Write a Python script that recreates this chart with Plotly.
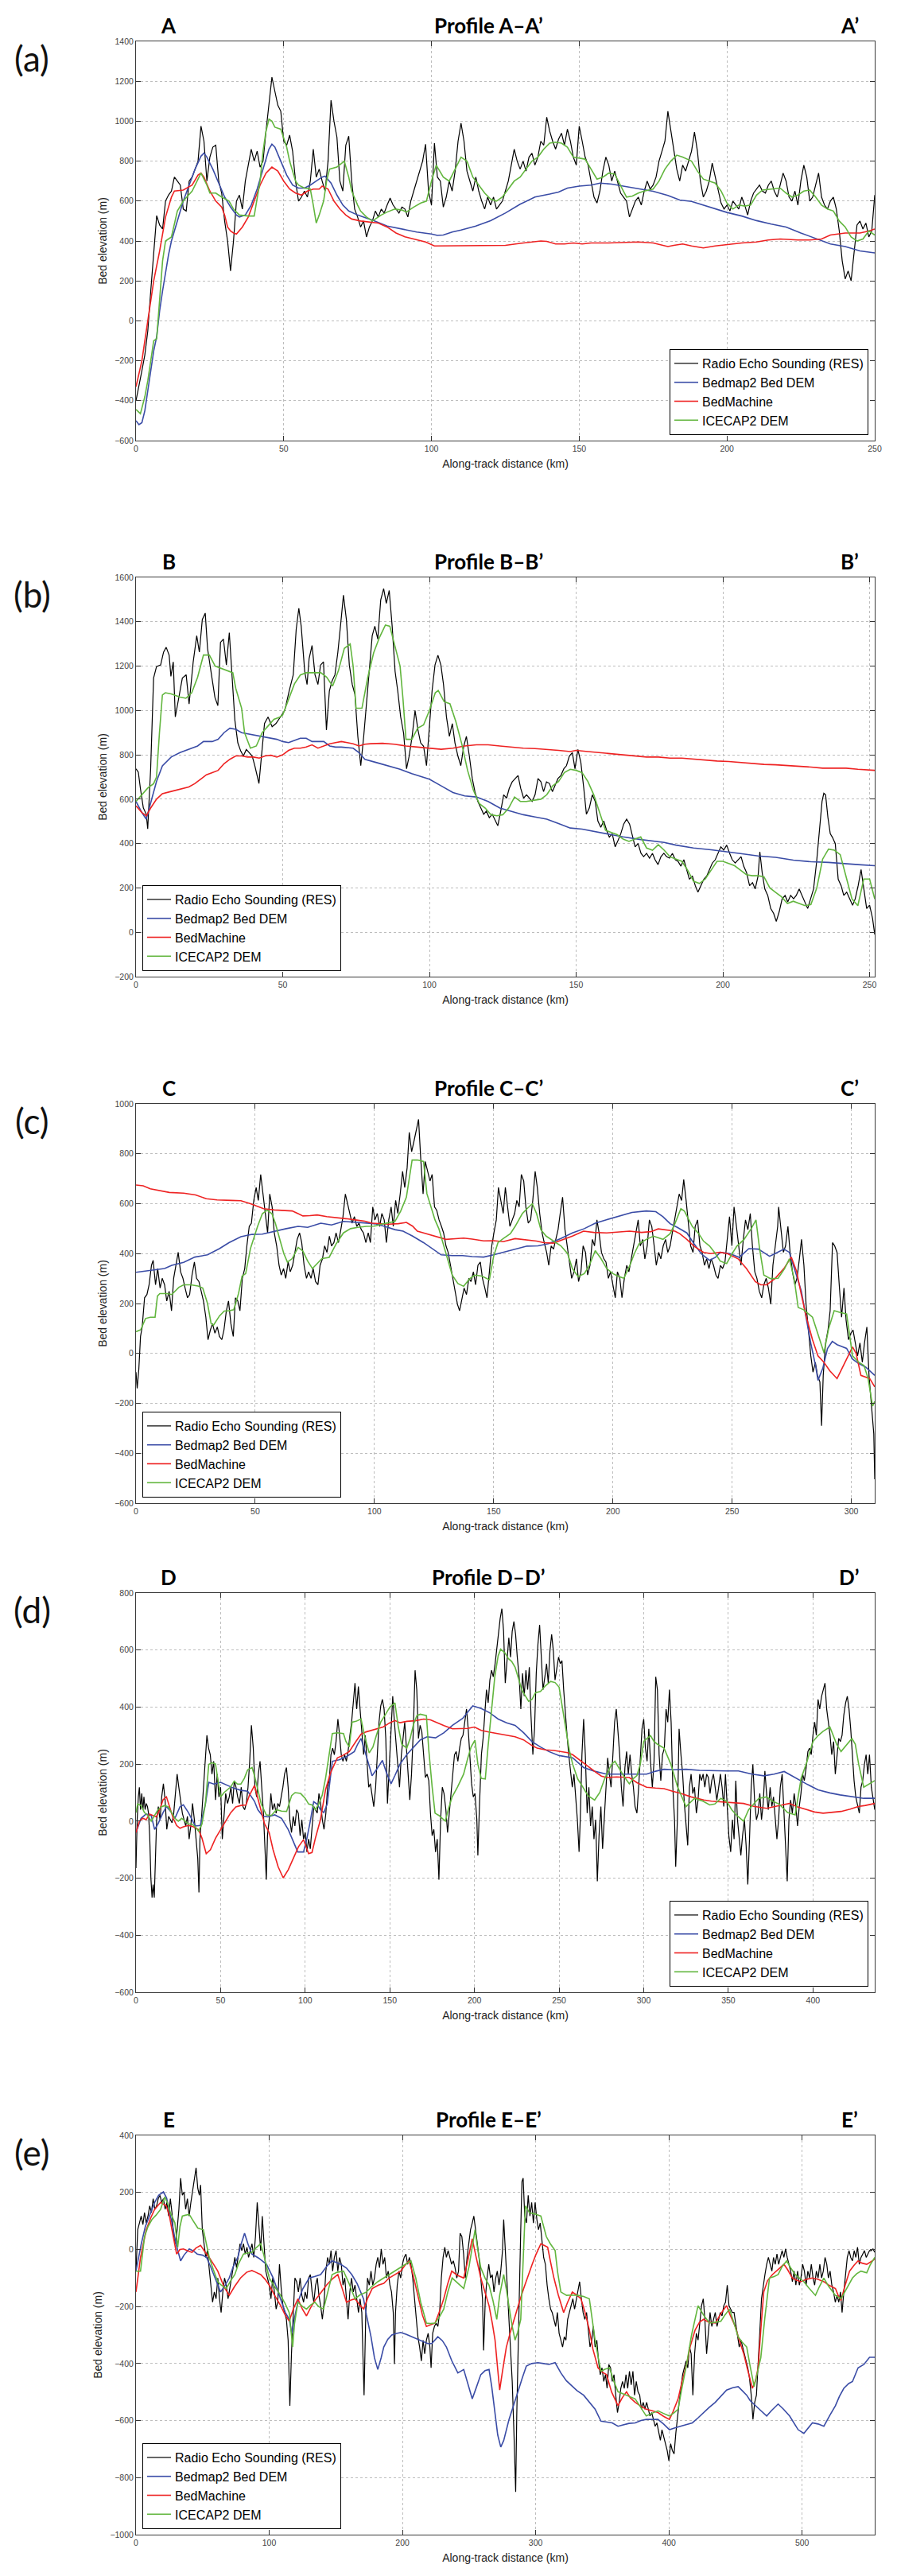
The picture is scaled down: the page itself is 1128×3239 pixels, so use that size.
import plotly.graph_objects as go

# page is rendered with the browser's 8px body margin, so the figure is sized to fit inside it
PAGE_W, PAGE_H = 1128, 3239
OFF = 8
W, H = PAGE_W - 2 * OFF, PAGE_H - 2 * OFF

# ---------------- Profile A-A' ----------------
a_res = [
    (0,-400),(1,-330),(2,-250),(3,-170),(4,-50),(5,150),(6,356),(7,527),(8,480),(9,460),
    (10,600),(11,630),(12,650),(13,720),(14,700),(15,680),(16,560),(17,550),(18,700),(19,720),
    (20,760),(21,800),(22,975),(23,900),(24,700),(25,820),(26,870),(27,880),(28,700),(29,640),
    (30,500),(31,400),(32,250),(33,400),(34,600),(35,630),(36,560),(37,700),(38,780),(39,860),
    (40,800),(41,850),(42,770),(43,800),(44,950),(45,1100),(46,1220),(47,1150),(48,1080),(49,1050),
    (50,900),(51,880),(52,930),(53,850),(54,700),(55,600),(56,620),(57,650),(58,620),(59,700),
    (60,860),(61,720),(62,760),(63,700),(64,650),(65,800),(66,1105),(67,1000),(68,920),(69,700),
    (70,650),(71,880),(72,925),(73,700),(74,560),(75,520),(76,470),(77,500),(78,420),(79,470),
    (80,500),(81,550),(82,520),(83,560),(84,540),(85,580),(86,615),(87,580),(88,560),(89,540),
    (90,570),(91,560),(92,520),(93,600),(94,650),(95,700),(96,750),(97,800),(98,885),(99,650),
    (100,580),(101,890),(102,720),(103,700),(104,570),(105,620),(106,700),(107,650),(108,750),(109,900),
    (110,990),(111,900),(112,750),(113,700),(114,650),(115,720),(116,650),(117,600),(118,560),(119,620),
    (120,580),(121,620),(122,560),(123,580),(124,600),(125,650),(126,700),(127,780),(128,860),(129,800),
    (130,760),(131,800),(132,750),(133,820),(134,840),(135,780),(136,820),(137,900),(138,880),(139,1020),
    (140,950),(141,900),(142,860),(143,910),(144,940),(145,880),(146,960),(147,900),(148,820),(149,780),
    (150,975),(151,900),(152,820),(153,780),(154,700),(155,620),(156,590),(157,650),(158,750),(159,820),
    (160,780),(161,700),(162,750),(163,700),(164,640),(165,620),(166,600),(167,520),(168,560),(169,600),
    (170,620),(171,580),(172,650),(173,700),(174,660),(175,680),(176,720),(177,800),(178,850),(179,900),
    (180,1050),(181,950),(182,850),(183,760),(184,700),(185,780),(186,750),(187,800),(188,850),(189,945),
    (190,850),(191,700),(192,620),(193,650),(194,700),(195,790),(196,720),(197,650),(198,590),(199,560),
    (200,580),(201,550),(202,600),(203,580),(204,560),(205,620),(206,580),(207,530),(208,600),(209,640),
    (210,660),(211,680),(212,650),(213,640),(214,680),(215,700),(216,650),(217,620),(218,680),(219,740),
    (220,700),(221,620),(222,600),(223,650),(224,580),(225,700),(226,780),(227,720),(228,600),(229,620),
    (230,680),(231,740),(232,620),(233,580),(234,560),(235,600),(236,620),(237,560),(238,450),(239,300),
    (240,210),(241,250),(242,200),(243,350),(244,480),(245,500),(246,460),(247,490),(248,420),(249,450),
    (250,630),
]
a_bedmap2 = [
    (0,-500),(1,-520),(2,-510),(3,-450),(4,-350),(5,-250),(6,-150),(7,-80),(8,50),(9,150),
    (10,250),(11,330),(12,400),(14,500),(16,600),(18,680),(20,760),(22,825),(23,840),(24,820),
    (26,760),(28,690),(30,620),(32,570),(34,530),(35,520),(37,530),(39,580),(41,660),(43,760),
    (45,860),(46,885),(47,870),(49,800),(51,730),(53,680),(55,665),(57,665),(59,680),(61,700),
    (63,720),(64,725),(66,690),(68,630),(70,580),(72,550),(75,530),(78,515),(80,505),(85,475),
    (90,460),(95,445),(100,435),(102,428),(104,430),(107,445),(110,455),(115,475),(120,502),(125,540),
    (130,584),(135,620),(140,635),(143,645),(146,665),(150,675),(154,680),(157,690),(161,685),(165,675),
    (170,660),(175,649),(180,628),(184,605),(188,598),(192,580),(196,560),(200,543),(205,525),(210,502),
    (215,485),(220,470),(225,440),(230,413),(235,385),(240,372),(245,350),(250,340),
]
a_bedmachine = [
    (0,-330),(2,-200),(4,0),(6,200),(8,350),(10,520),(12,620),(13,650),(16,655),(19,680),
    (21,730),(22,740),(23,720),(25,650),(27,600),(29,570),(30,530),(31,470),(32,450),(33,440),
    (34,435),(36,470),(38,520),(40,600),(42,680),(44,740),(46,770),(48,750),(50,700),(52,660),
    (54,640),(56,630),(58,650),(60,660),(62,660),(63,675),(65,660),(67,600),(69,560),(71,530),
    (73,510),(76,500),(80,495),(82,490),(85,470),(88,440),(91,421),(95,405),(98,395),(101,375),
    (104,375),(110,375),(120,375),(125,378),(130,388),(135,395),(137,400),(139,398),(142,385),(145,385),
    (148,390),(151,385),(154,390),(160,390),(165,392),(170,395),(175,390),(178,380),(180,372),(182,378),
    (185,385),(188,375),(192,365),(196,375),(200,383),(205,390),(210,395),(214,405),(218,410),(224,405),
    (228,405),(232,410),(235,430),(240,440),(245,440),(248,450),(250,460),
]
a_icecap2 = [
    (0,-444),(1.5,-465),(3,-380),(4,-300),(5,-200),(6,-100),(7,-90),(8,100),(9,300),(10,400),
    (12,420),(14,550),(16,600),(19,650),(22,740),(24,680),(25,640),(27,640),(29,620),(31.5,600),
    (33,560),(35,530),(38,525),(40,525),(42,700),(43,850),(44,950),(45,1010),(46,1000),(47,970),
    (49,960),(51,870),(52,800),(54,700),(55,680),(57,665),(59,660),(60,580),(61,490),(62,530),
    (63.5,600),(64.5,700),(65.5,760),(68,770),(70.5,800),(72,720),(73,650),(75,580),(76,550),(78,520),
    (80,500),(83,530),(85,545),(87.6,560),(90,555),(91.5,545),(94,570),(96.4,590),(98.3,600),(100,700),
    (101.6,780),(104,720),(106,700),(108,760),(110,820),(112,800),(114,720),(116,680),(118,640),(120,610),
    (122,600),(124,620),(126,660),(128,700),(130,720),(132,760),(134,800),(136,820),(138,860),(140,890),
    (142,895),(144,890),(146,870),(148,820),(150,815),(152,810),(154,760),(156,710),(158,720),(160,740),
    (162,735),(164,680),(166,620),(168,625),(170,640),(172,650),(175,660),(177,700),(179,760),(181,800),
    (183,830),(185,820),(188,800),(190,750),(192,710),(194,700),(196,690),(198,650),(200,590),(202,560),
    (204,580),(206,575),(208,580),(210,630),(212,655),(215,660),(218,665),(220,640),(222,620),(224,630),
    (226,650),(228,655),(230,620),(232,580),(234,560),(236,550),(238,500),(240,470),(242,420),(244,400),
    (246,410),(248,450),(250,430),
]

# ---------------- Profile B-B' ----------------
b_res = [
    (0,737),(0.8,722),(1.5,649),(2.5,561),(3.5,532),(4,466),(5,737),(5.5,956),(6,1146),(7,1198),
    (8.4,1205),(9.4,1263),(10.3,1285),(11.3,1249),(11.9,1154),(12.7,1219),(13.4,971),(14.2,1029),(15.8,1146),(17.1,1161),
    (18.1,1029),(19.5,1219),(20.7,1337),(21.6,1263),(22.6,1410),(23.6,1439),(24.4,1278),(25.9,1146),(26.9,1059),(27.9,1022),
    (28.8,1307),(29.8,1322),(30.8,1205),(31.8,1351),(32.7,1146),(33.7,956),(34.7,854),(35.7,817),(36.6,795),(37.6,824),
    (39.6,795),(40.5,751),(41.9,671),(43.1,854),(43.8,941),(45,971),(46.4,927),(47.7,941),(49.3,971),(50.7,1000),
    (52.2,1088),(53.6,1161),(54.6,1366),(55.5,1461),(56.3,1380),(57.5,1176),(58.3,1117),(59,1234),(60,1293),(61,1161),
    (62,1117),(62.9,1205),(63.9,1219),(64.9,912),(65.9,1088),(66.8,1132),(67.8,1161),(68.8,1263),(69.8,1395),(70.7,1520),
    (71.7,1410),(72.7,1205),(73.7,1117),(74.6,1073),(75.6,883),(76.6,751),(77.6,883),(78.5,1029),(79.5,1205),(80.5,1337),
    (81.4,1380),(82.4,1322),(83.4,1498),(84.4,1549),(85.3,1483),(86.3,1541),(87.3,1380),(88.3,1176),(89.2,1088),(90.2,971),
    (91.2,898),(92.2,737),(93.1,795),(94.1,883),(95.1,1000),(96.1,912),(97,854),(98,839),(99,751),(100,941),
    (100.9,1088),(101.9,1205),(102.9,1249),(103.9,1205),(104.8,1117),(105.8,971),(106.8,883),(107.8,941),(108.7,854),(109.7,795),
    (110.7,751),(111.7,839),(112.6,883),(113.6,795),(114.6,693),(115.5,634),(116.5,590),(117.5,561),(118.5,532),(119.4,546),
    (120.4,517),(121.4,532),(122.4,502),(123.3,480),(124.3,546),(125.3,620),(126.3,605),(127.2,649),(128.2,678),(129.2,693),
    (130.2,707),(131.1,649),(132.1,605),(133.1,620),(134.1,605),(135,590),(136,620),(137,693),(138,678),(138.9,634),
    (139.9,678),(140.9,671),(141.9,634),(142.8,663),(143.8,693),(144.8,707),(145.8,737),(146.7,751),(147.7,795),(148.7,810),
    (149.6,737),(150.6,824),(151.6,766),(152.6,649),(153.5,532),(154.5,561),(155.5,620),(156.5,590),(157.4,502),(158.4,473),
    (159.4,502),(160.4,459),(161.3,429),(162.3,444),(163.3,385),(164.3,415),(165.2,444),(166.2,488),(167.2,510),(168.2,488),
    (169.1,444),(170.1,385),(171.1,400),(172.1,356),(173,341),(174,356),(175,334),(176,356),(176.9,327),(177.9,305),
    (178.9,341),(179.9,356),(180.8,341),(181.8,334),(182.8,356),(183.8,327),(184.7,320),(185.7,298),(186.7,327),(187.6,283),
    (188.6,239),(189.6,254),(190.6,210),(191.5,181),(192.5,210),(193.5,239),(194.5,254),(195.4,283),(196.4,312),(197.4,327),
    (198.4,356),(199.3,385),(200.3,371),(201.3,393),(202.3,356),(203.2,327),(204.2,312),(205.2,327),(206.2,341),(207.1,298),
    (208.1,268),(209.1,210),(210.1,224),(211,195),(212,254),(212.6,363),(213.4,268),(214.3,195),(215.3,166),(216.3,107),
    (217.3,85),(218.2,49),(219.2,93),(220.2,151),(221.2,166),(222.1,137),(223.1,166),(224.1,151),(225,166),(226,195),
    (227,166),(228,137),(228.9,107),(229.9,151),(230.9,195),(231.9,312),(232.8,444),(233.8,590),(234.4,627),(235,620),
    (235.8,517),(236.6,444),(237.3,429),(238.3,400),(239.3,239),(240.3,210),(241.2,166),(242.2,181),(243.2,151),(244.2,122),
    (245.1,151),(246.1,210),(247.1,283),(248,195),(249,107),(250,122),(251,63),(251.75,-10),
]
b_bedmap2 = [
    (0,590),(2,540),(3.5,510),(5,580),(7,680),(9,750),(12,790),(15,810),(18,825),(21,840),
    (23,860),(26,860),(28,870),(30,900),(32,920),(34,915),(36,900),(40,890),(44,880),(48,870),
    (50,860),(52,855),(54,865),(56,875),(58,875),(60,860),(62,860),(64,860),(66,840),(68,835),
    (70,835),(74,830),(76,810),(78,780),(82,765),(86,750),(90,735),(94,715),(98,700),(100,690),
    (104,660),(108,630),(112,615),(116,610),(120,590),(124,560),(128,545),(132,530),(136,520),(140,510),
    (144,490),(148,470),(152,465),(156,455),(160,444),(166,430),(172,418),(176,412),(180,405),(184,393),
    (190,380),(196,372),(200,366),(206,355),(212,344),(218,338),(224,325),(230,318),(236,315),(240,312),
    (246,305),(251.75,300),
]
b_bedmachine = [
    (0,570),(2,540),(3.5,525),(5,560),(7,600),(9,625),(12,635),(15,645),(18,655),(20,670),
    (22,690),(24,710),(26,720),(28,730),(30,760),(32,780),(34,795),(36,795),(38,790),(40,790),
    (42,785),(44,795),(46,798),(48,790),(50,800),(52,820),(54,830),(56,830),(58,835),(60,845),
    (62,830),(64,840),(66,850),(68,855),(70,860),(72,855),(74,850),(76,840),(78,848),(80,850),
    (84,852),(88,848),(92,840),(96,835),(100,830),(104,825),(108,830),(112,840),(116,845),(120,845),
    (124,840),(128,835),(132,830),(136,828),(140,825),(144,820),(148,815),(150,820),(154,815),(158,810),
    (162,805),(166,800),(170,795),(174,790),(178,790),(182,785),(186,785),(190,780),(194,775),(198,772),
    (202,770),(206,765),(210,760),(214,757),(218,755),(222,752),(226,750),(230,745),(234,740),(238,740),
    (242,740),(246,735),(251.75,730),
]
b_icecap2 = [
    (0,590),(2,620),(4,650),(6,670),(7,700),(8,900),(9,1070),(10,1080),(12,1075),(15,1060),
    (17,1055),(19,1080),(21,1150),(23,1250),(25,1250),(27,1200),(29,1190),(31,1180),(33,1170),(34,1100),
    (36,1010),(37,900),(39,830),(41,840),(43,900),(45,930),(47,960),(49,970),(50,980),(52,1050),
    (54,1120),(56,1160),(58,1170),(60,1170),(63,1170),(65,1150),(67,1110),(69,1180),(71,1280),(73,1300),
    (74,1200),(75,1010),(77,1010),(79,1150),(81,1260),(83,1330),(85,1385),(86.5,1380),(88,1300),(90,1200),
    (91,1050),(92,870),(94,870),(96,920),(98,935),(100,1000),(102,1080),(103,1090),(105,1040),(107,1030),
    (109,950),(111,850),(113,730),(115,640),(117,580),(119,560),(121,530),(123,525),(125,530),(127,560),
    (129,610),(131,590),(133,590),(135,595),(138,600),(140,620),(142,660),(144,680),(146,720),(148,735),
    (150,730),(152,720),(154,680),(156,620),(158,540),(160,460),(162,450),(164,440),(166,420),(168,410),
    (170,420),(172,430),(174,380),(176,370),(178,395),(180,370),(182,340),(184,330),(186,320),(188,280),
    (190,230),(192,220),(194,240),(196,280),(198,320),(200,320),(202,310),(204,300),(206,280),(208,260),
    (210,255),(212,255),(214,250),(216,200),(218,180),(220,160),(222,130),(224,140),(226,130),(228,120),
    (230,125),(232,200),(234,330),(236,375),(238,370),(240,350),(242,250),(244,150),(246,120),(248,240),
    (250,240),(251.75,150),
]

# ---------------- Profile C-C' ----------------
c_res = [
    (0,-75),(0.5,-140),(1.2,-62),(1.9,68),(2.6,106),(3.6,223),(4.6,236),(5.5,275),(6.5,353),(7.2,373),
    (8.2,275),(9.1,340),(10.1,262),(11,301),(12,275),(12.9,210),(13.9,249),(14.9,171),(15.8,301),(16.8,353),
    (17.7,405),(18.7,327),(19.7,301),(20.6,262),(21.6,223),(22.5,236),(23.5,314),(24.5,366),(25.4,301),(26.4,288),
    (27.3,249),(28.3,210),(29.3,145),(30.2,55),(31.2,94),(32.1,119),(33.1,81),(34.1,106),(35,68),(36,55),
    (36.9,94),(37.9,171),(38.8,210),(39.8,119),(40.8,68),(41.7,223),(42.7,210),(43.6,171),(44.6,301),(45.6,340),
    (46.5,431),(47.5,509),(48.4,522),(49.4,613),(50.4,665),(51.3,613),(52.3,717),(53.2,639),(54.2,561),(55.2,483),
    (56.1,639),(57.1,587),(58,483),(59,431),(60,353),(60.9,314),(61.9,340),(62.8,301),(63.8,366),(64.7,327),
    (65.7,353),(66.7,405),(67.6,457),(68.6,483),(69.5,444),(70.5,353),(71.5,301),(72.4,327),(73.4,301),(74.3,340),
    (75.3,288),(76.3,275),(77.2,353),(78.2,379),(79.1,431),(80.1,405),(81.1,470),(82,431),(83,444),(83.9,483),
    (84.9,444),(85.9,496),(86.8,548),(87.8,639),(88.7,600),(89.7,561),(90.6,522),(91.6,548),(92.6,509),(93.5,522),
    (94.5,496),(95.4,483),(96.4,444),(97.4,483),(98.3,444),(99.3,587),(100.2,535),(101.2,561),(102.2,509),(103.1,561),
    (104.1,535),(105,444),(106,535),(107,587),(107.9,509),(108.9,613),(109.8,561),(110.8,639),(111.8,730),(112.7,665),
    (113.7,743),(114.6,886),(115.6,808),(116.5,847),(117.5,899),(118.5,938),(119.4,782),(120.4,639),(121.3,769),(122.3,730),
    (123.3,691),(124.2,717),(125.2,587),(126.1,574),(127.1,535),(128.1,509),(129,483),(130,431),(130.9,405),(131.9,353),
    (132.9,301),(133.8,249),(134.8,197),(135.7,171),(136.7,223),(137.6,262),(138.6,236),(139.6,301),(140.5,288),(141.5,327),
    (142.4,275),(143.4,353),(144.4,366),(145.3,301),(146.3,262),(147.2,223),(148.2,327),(149.2,431),(150.1,483),(151.1,535),
    (152,665),(153,613),(154,561),(154.9,665),(155.9,587),(156.8,509),(157.8,535),(158.8,561),(159.7,613),(160.7,587),
    (161.6,717),(162.6,691),(163.5,587),(164.5,522),(165.5,535),(166.4,613),(167.4,730),(168.3,665),(169.3,561),(170.3,483),
    (171.2,444),(172.2,405),(173.1,353),(174.1,431),(175.1,418),(176,457),(177,496),(177.9,561),(178.9,626),(179.9,496),
    (180.8,431),(181.8,353),(182.7,301),(183.7,327),(184.7,379),(185.6,288),(186.6,327),(187.5,431),(188.5,405),(189.4,314),
    (190.4,353),(191.4,457),(192.3,431),(193.3,535),(194.2,483),(195.2,405),(196.2,379),(197.1,366),(198.1,301),(199,327),
    (200,275),(201,223),(201.9,327),(202.9,301),(203.8,223),(204.8,301),(205.8,353),(206.7,327),(207.7,379),(208.6,431),
    (209.6,483),(210.6,535),(211.5,431),(212.5,457),(213.4,379),(214.4,431),(215.3,535),(216.3,509),(217.3,431),(218.2,353),
    (219.2,405),(220.1,379),(221.1,431),(222.1,457),(223,405),(224,431),(224.9,483),(225.9,535),(226.9,587),(227.8,639),
    (228.8,613),(229.7,697),(230.7,613),(231.7,509),(232.6,431),(233.6,405),(234.5,509),(235.5,535),(236.5,431),(237.4,405),
    (238.4,353),(239.3,379),(240.3,340),(241.2,379),(242.2,353),(243.2,314),(244.1,301),(245.1,353),(246,340),(247,366),
    (248,457),(248.9,548),(249.9,431),(250.8,587),(251.8,509),(252.8,431),(253.7,353),(254.7,457),(255.6,535),(256.6,496),
    (257.6,561),(258.5,431),(259.5,327),(260.4,301),(261.4,249),(262.4,223),(263.3,275),(264.3,301),(265.2,262),(266.2,197),
    (267.1,353),(268.1,431),(269.1,509),(269.5,587),(270.5,496),(271.5,405),(272.4,431),(273.4,509),(274.3,405),(275.3,327),
    (276.3,275),(277.2,301),(278.2,379),(279.1,457),(280.1,353),(281,197),(282,94),(283,-10),(283.9,-75),(284.9,-36),
    (285.8,-88),(286.8,-114),(287.5,-290),(288.2,-88),(289.2,42),(290.2,94),(291.1,171),(292.1,444),(293,431),(294,405),
    (295,262),(295.9,145),(296.9,262),(297.8,132),(298.8,55),(299.8,81),(300.7,94),(301.7,42),(302.6,-10),(303.6,42),
    (304.6,-36),(305.5,42),(306.5,106),(307.4,-88),(308.4,-218),(309.4,-322),(309.8,-504),
]
c_bedmap2 = [
    (0,325),(4,330),(8,334),(12,340),(15,353),(20,365),(24.7,386),(30,395),(35,420),(39,444),
    (44,468),(48.7,477),(53,478),(58,490),(63,500),(68,509),(72,505),(77.5,522),(82,515),(87,529),
    (92,525),(96.6,522),(100,520),(104,510),(108.6,496),(112,490),(116,470),(120.6,444),(125,415),(128,395),
    (132.6,392),(137,392),(141,388),(145.8,386),(150,395),(154.2,405),(160,420),(164,430),(168.6,431),(173,440),
    (178,460),(183,483),(188,500),(192.6,522),(197,535),(202,548),(208,565),(214,571),(218,568),(221,548),
    (224,520),(227,505),(231,483),(234,440),(237,400),(240.5,373),(243,385),(245,405),(249,400),(253,385),
    (257,420),(261,418),(265.7,389),(269,405),(271.7,418),(274,405),(276.5,327),(279,250),(281,145),(283,40),
    (285,-50),(286,-108),(288,-60),(290,20),(292,48),(294,35),(295.7,29),(298,20),(300.5,-23),(303,-40),
    (306,-55),(309.8,-88),
]
c_bedmachine = [
    (0,675),(3,672),(6,660),(10,652),(14,645),(20,642),(25,635),(29.5,620),(34,615),(40,613),
    (44,612),(48,600),(53.5,580),(58,575),(62,572),(65.5,571),(68,560),(70,551),(73,552),(76,555),
    (80,548),(84,545),(88,540),(92,535),(96,530),(99,522),(102,520),(106,518),(110,520),(113.4,525),
    (116,510),(118,490),(120.6,483),(125,470),(130,457),(134,460),(137.4,462),(141,458),(145.8,451),(150,452),
    (154,448),(159,460),(164,455),(168,450),(171,444),(175,442),(179.4,457),(183,470),(187.7,490),(192,485),
    (197.4,483),(202,486),(207,490),(212,485),(216,488),(219,499),(223,495),(226,490),(228,480),(231,457),
    (234,430),(238,405),(241,400),(245,405),(248,400),(252.5,379),(256,340),(259.7,288),(262,275),(264.5,275),
    (268,300),(271.7,340),(274.8,386),(277,330),(279,236),(281,150),(283.7,55),(286,-10),(288.5,-36),(291,-70),
    (294,-101),(296,-60),(298,-23),(300.5,26),(302,0),(304,-88),(307.7,-101),(309.8,-134),
]
c_icecap2 = [
    (0,87),(2,95),(4,140),(6,145),(8,145),(9,230),(10,240),(13,240),(15,236),(18,265),
    (20,275),(23,275),(26,270),(28,262),(30,200),(31.5,120),(32.5,113),(35,150),(37,170),(39,171),
    (41,175),(43,240),(44.5,310),(46,320),(48,420),(50,480),(51,509),(53,560),(55,574),(57,560),
    (58.5,520),(60.7,444),(62,400),(63.5,366),(65.5,380),(68,425),(70,410),(72,370),(74,340),(76,360),
    (78,380),(81,385),(84,440),(87,483),(90,500),(93,505),(96.6,509),(100,510),(104,520),(108.6,529),
    (111,570),(113.4,626),(115.8,775),(118,775),(120.6,769),(122,640),(125.4,535),(127,500),(130,400),(132.6,314),
    (135,280),(137.4,269),(140,300),(142.2,314),(145,310),(148.2,295),(150,390),(151.8,444),(154,460),(157,480),
    (159,509),(162,560),(164,580),(166.2,600),(168,560),(169.8,496),(172,470),(175,450),(178.2,431),(181,400),
    (183,340),(185.4,308),(188,320),(190,350),(192.6,412),(195,380),(197.4,340),(200,320),(202,310),(204.6,301),
    (207,350),(209,400),(211,440),(214,457),(217,470),(221,457),(224,480),(226,520),(228.5,580),(230,570),
    (233.3,509),(236,480),(238,450),(240.5,431),(243,400),(245,370),(247.7,360),(250,400),(252,430),(255,457),
    (258,500),(260,535),(261.5,420),(263.3,314),(266,300),(269.3,301),(272,340),(274,379),(276,300),(277.7,184),
    (280,175),(283.7,145),(286,80),(288.5,3),(290.5,100),(292.8,171),(295,165),(298,158),(300.5,-10),(303,-35),
    (305.3,-49),(307,-100),(308.9,-211),(309.8,-192),
]

# ---------------- Profile D-D' ----------------
d_res = [
    (0,-165),(0.7,5),(1.4,85),(2,119),(2.7,40),(3.4,97),(4.1,40),(4.7,85),(5.4,40),(6.1,62),
    (6.8,51),(7.4,28),(8.1,-51),(8.8,-199),(9.5,-268),(10.1,-222),(10.8,-268),(11.5,-108),(12.2,5),(13.2,51),
    (14.2,5),(15.2,85),(16.2,131),(17.2,74),(18.2,-29),(19.3,17),(20.3,5),(21.3,-6),(22.3,28),(23.3,97),
    (24.3,165),(25.3,119),(26.4,62),(27.4,28),(28.4,5),(29.4,-17),(30.4,17),(31.4,-63),(32.4,-17),(33.4,62),
    (34.5,5),(35.5,-63),(36.5,-131),(37.2,-250),(37.8,-63),(38.9,28),(39.9,119),(40.9,233),(41.9,301),(42.9,256),
    (43.9,233),(44.9,165),(45.9,210),(47,74),(48,165),(49,85),(50,119),(51,-63),(52,28),(53,97),
    (54.1,62),(55.1,85),(56.1,119),(57.1,62),(58.1,142),(59.1,119),(60.1,85),(61.1,62),(62.2,119),(63.2,51),
    (64.2,40),(65.2,62),(66.2,119),(67.2,210),(68.2,336),(69.3,256),(70.3,119),(71.3,85),(72.3,165),(73.3,210),
    (74.3,119),(75.3,28),(76.4,-120),(77,-205),(77.7,-51),(78.7,5),(79.7,97),(80.7,40),(81.8,62),(82.8,28),
    (83.8,62),(84.8,51),(85.8,85),(86.8,119),(87.8,165),(88.9,188),(89.9,119),(90.9,5),(91.9,-40),(92.9,17),
    (93.9,-17),(94.9,40),(95.9,28),(97,-51),(98,5),(99,-63),(100,-40),(101,-108),(102,-63),(103,-97),
    (104.1,-17),(105.1,51),(106.1,40),(107.1,28),(108.1,97),(109.1,62),(110.1,5),(111.1,-29),(112.2,28),(113.2,119),
    (114.2,142),(115.2,233),(116.2,256),(117.2,233),(118.2,279),(119.3,358),(120.3,301),(121.3,233),(122.3,210),(123.3,233),
    (124.3,210),(125.3,244),(126.4,301),(127.4,347),(128.4,415),(129.4,484),(130.4,393),(131.4,472),(132.4,393),(133.4,313),
    (134.5,233),(135.5,301),(136.5,210),(137.5,119),(138.5,131),(139.5,85),(140.5,51),(141.6,119),(142.6,233),(143.6,347),
    (144.6,404),(145.6,427),(146.6,393),(147.6,290),(148.6,62),(149.7,210),(150.7,301),(151.7,438),(152.7,347),(153.7,279),
    (154.7,210),(155.7,119),(156.8,233),(157.8,301),(158.8,347),(159.8,256),(160.8,176),(161.8,74),(162.8,165),(163.9,324),
    (164.9,529),(165.9,461),(166.9,290),(167.9,336),(168.9,313),(169.9,233),(171,153),(172,165),(173,142),(174,28),
    (175,-51),(176,-29),(177,-108),(178,-63),(179,-205),(180,5),(181,119),(182,97),(183.1,40),(184.1,-40),
    (185.1,28),(186.1,74),(187.2,165),(188.2,233),(189.2,244),(190.2,210),(191.2,256),(192.2,290),(193.2,301),(194.3,347),
    (195.3,393),(196.3,324),(197.3,233),(198.3,131),(199.3,85),(200.3,97),(201.4,5),(202,-120),(203,62),(204.1,233),
    (205.1,290),(206.1,370),(207.1,461),(208.1,415),(209.1,495),(210.1,529),(211.1,506),(212.2,552),(213.2,609),(214.2,666),
    (215.2,711),(216.2,745),(217.2,666),(218.2,484),(219.3,575),(220.3,643),(221.3,575),(222.3,666),(223.3,700),(224.3,655),
    (225.3,575),(226.4,506),(227.4,393),(228.4,518),(229.4,438),(230.4,529),(231.4,461),(232.4,540),(233.4,370),(234.5,233),
    (235.5,324),(236.5,518),(237.5,620),(238.5,688),(239.5,575),(240.5,461),(241.6,506),(242.6,552),(243.6,484),(244.6,597),
    (245.6,655),(246.6,597),(247.6,495),(248.6,540),(249.7,575),(250.7,552),(251.7,563),(252.7,461),(253.7,393),(254.7,301),
    (255.7,233),(256.8,165),(257.8,119),(258.8,165),(259.8,85),(260.8,5),(261.8,-108),(262.5,5),(263.5,233),(264.5,358),
    (265.5,233),(266.6,28),(267.6,119),(268.6,-17),(269.6,51),(270.6,-63),(271.6,5),(272.6,-211),(273.6,-51),(274.7,51),
    (275.7,-97),(276.7,5),(277.7,119),(278.7,222),(279.7,165),(280.7,119),(281.8,233),(282.8,347),(283.8,393),(284.8,324),
    (285.8,233),(286.8,119),(287.8,51),(288.9,188),(289.9,244),(290.9,165),(291.9,233),(292.9,165),(293.9,119),(294.9,51),
    (296,28),(297,119),(298,233),(299,324),(300,358),(301,256),(302,210),(303,324),(304,210),(305.1,119),
    (306.1,210),(307.1,506),(308.1,461),(309.1,233),(310.1,142),(311.1,233),(312.2,256),(313.2,393),(314.2,347),(315.2,461),
    (316.2,347),(317.2,119),(318.2,5),(318.9,-160),(319.9,5),(320.9,324),(322,233),(323,165),(324,62),(325,-17),
    (326,-85),(327,119),(328,165),(329,97),(330,119),(331.1,28),(332.1,74),(333.1,165),(334.1,142),(335.1,165),
    (336.1,119),(337.2,165),(338.2,153),(339.2,97),(340.2,142),(341.2,165),(342.2,119),(343.2,74),(344.3,119),(345.3,165),
    (346.3,119),(347.3,51),(348.3,165),(349.3,51),(350.3,-51),(351.4,-108),(352.4,5),(353.4,-63),(354.4,142),(355.4,5),
    (356.4,-51),(357.4,-120),(358.4,-51),(359.5,5),(360.5,-85),(361.5,-222),(362.5,-63),(363.5,119),(364.5,199),(365.5,74),
    (366.6,5),(367.6,28),(368.6,97),(369.6,5),(370.6,62),(371.6,176),(372.6,97),(373.6,40),(374.7,119),(375.7,51),
    (376.7,85),(377.7,5),(378.7,-63),(379.7,5),(380.7,119),(381.8,165),(382.8,28),(383.8,-63),(384.8,-211),(385.8,5),
    (386.8,74),(387.8,28),(388.9,97),(389.9,51),(390.9,-17),(391.9,51),(392.9,97),(393.9,165),(394.9,142),(396,188),
    (397,244),(398,256),(399,233),(400,301),(401,347),(402,301),(403,427),(404,393),(405.1,438),(406.1,461),
    (407.1,484),(408.1,393),(409.1,347),(410.1,301),(411.1,233),(412.2,279),(413.2,165),(414.2,233),(415.2,290),(416.2,279),
    (417.2,301),(418.2,370),(419.3,415),(420.3,438),(421.3,393),(422.3,324),(423.3,233),(424.3,142),(425.3,85),(426.4,51),
    (427.4,28),(428.4,119),(429.4,142),(430.4,199),(431.4,233),(432.4,165),(433.4,233),(434.5,119),(435.5,74),(436.5,40),
]
d_bedmap2 = [
    (0,-40),(3,10),(6,25),(9,20),(11,-29),(13,-10),(16,30),(18,51),(21,30),(23,10),
    (26,50),(28,57),(31,30),(35,-17),(38,-15),(41,60),(43,136),(46,130),(50,136),(54,125),
    (58,115),(62,108),(66,105),(70,70),(72,40),(75,17),(78,15),(82,22),(86,10),(90,-30),
    (93,-70),(95.6,-108),(99,-108),(101,-60),(103,0),(105,68),(107,60),(109,40),(111,30),(113,60),
    (116,210),(120,215),(124,225),(129,244),(131,270),(133,290),(136,230),(139.5,159),(142,180),(145.6,213),
    (148,170),(150.7,131),(153,160),(156,200),(160,233),(164,260),(168,285),(172,296),(177,292),(182,310),
    (187,336),(193,360),(199,404),(204,395),(209,380),(214,358),(219,345),(224,336),(229,310),(234,279),
    (239,260),(244,244),(250,230),(258,222),(264.5,188),(271,175),(278,165),(285,165),(291.5,165),(296,165),
    (301.7,165),(307,175),(312,182),(318,180),(325,182),(333,178),(342,176),(349,176),(356,176),(364,165),
    (371,159),(377,165),(383,174),(390,150),(396,131),(403,110),(410,99),(416,92),(423,85),(430,80),
    (436.5,80),
]
d_bedmachine = [
    (0,-40),(2,0),(4,10),(6,5),(8,25),(10,20),(12,15),(14,40),(16,75),(18,85),
    (20,50),(22,10),(24,-15),(26,-25),(28,-20),(31,-15),(34,-20),(37,-30),(39,-60),(41.5,-114),
    (44,-100),(47,-60),(50,-30),(53,0),(56,30),(59,50),(62,55),(65,57),(67,90),(70,125),
    (72,80),(74,30),(76,-10),(78.7,-40),(81,-100),(84,-160),(87,-199),(90,-170),(93,-130),(96,-90),
    (99,-65),(101,-100),(102,-114),(104,-110),(106,-60),(109,5),(112,110),(115,170),(119,222),(122,230),
    (126,244),(130,280),(133,305),(136,313),(140,320),(146,330),(150,345),(153,353),(156,345),(160,350),
    (165,352),(170,358),(174,355),(177,347),(182,335),(187,324),(192,325),(196,325),(200,330),(204,318),
    (209,312),(214,307),(219,300),(224,296),(229,285),(234,265),(237,256),(242,250),(247,248),(251,244),
    (255,240),(258,233),(262,215),(265,200),(268,188),(272,170),(275,158),(278,153),(284,155),(291.5,153),
    (296,135),(301.7,119),(307,116),(312,114),(317,105),(322,97),(328,85),(335.5,74),(340,70),(345.6,68),
    (352,65),(359,62),(365,52),(372.6,45),(378,52),(386,62),(391,50),(396,40),(401,32),(406,28),
    (411,30),(416.6,34),(422,42),(426.7,51),(431,55),(436.5,62),
]
d_icecap2 = [
    (0,30),(1,60),(3,55),(5,30),(7,20),(9,0),(11,20),(13,40),(15,50),(17,55),
    (19,50),(21,30),(23,10),(25,0),(27,10),(29,0),(31,-10),(33,-10),(35,-20),(37,-35),
    (39,-10),(41,60),(43,199),(45,205),(47,200),(48,160),(50,85),(52,100),(54,110),(56,120),
    (58,140),(60,130),(62,130),(64,150),(66,180),(68.6,188),(70,160),(72,110),(74,60),(77,22),
    (80,20),(83,40),(86,35),(89,34),(92,90),(94,100),(97.3,97),(100,80),(102,60),(104,57),
    (106,40),(108,60),(110,90),(112,150),(114,230),(116,307),(119,310),(122.6,307),(124,280),(126,260),
    (127.7,347),(130,350),(133,358),(135,300),(137.8,239),(140,260),(142,300),(144.6,347),(147,370),(150,400),
    (153,415),(155,330),(157,270),(160,256),(162,290),(164,340),(166,370),(168,375),(171.6,370),(173,250),
    (175,120),(176.7,28),(179,20),(181,10),(182.8,0),(184.5,40),(186.8,85),(190,120),(193.6,165),(196,220),
    (198,260),(200.3,284),(202,200),(204,150),(206.4,148),(208,260),(210,380),(212,506),(214,580),(215.5,603),
    (218,590),(220,570),(222,560),(224,540),(226,500),(228,460),(230,440),(232,420),(234,427),(236,450),
    (239,455),(242,475),(245,490),(247.6,486),(250,470),(252,400),(254.4,313),(256,250),(258,200),(261,148),
    (264,120),(267,90),(271,74),(274,100),(277,150),(281,199),(283,210),(286,180),(288,160),(291.5,131),
    (294,150),(296,160),(298,200),(300,280),(302,290),(304,300),(306,280),(308,270),(312,256),(316,200),
    (320,120),(325,51),(330,80),(335,70),(339,57),(342,60),(345.6,80),(349,70),(352,40),(355,20),
    (359,0),(362,40),(365,60),(368,80),(372.6,85),(376,70),(380,60),(385,30),(389.5,22),(393,150),
    (396,200),(400,279),(403,300),(406,315),(410,330),(412,300),(414,270),(416.6,244),(420,270),(423,290),
    (425,270),(427,200),(430,119),(433,130),(436.5,142),
]

# ---------------- Profile E-E' ----------------
e_res = [
    (0,-76),(1.3,69),(2.6,93),(3.9,117),(5.2,87),(6.4,129),(7.7,93),(9,117),(10.3,153),(11.6,129),
    (12.9,178),(14.2,141),(15.5,153),(16.7,178),(18,190),(19.3,165),(20.6,178),(21.9,141),(23.2,165),(24.5,117),
    (25.8,178),(27,129),(28.3,45),(29.6,20),(30.9,69),(32.2,141),(33.5,250),(34.8,190),(36.1,202),(37.3,141),
    (38.6,178),(39.9,117),(41.2,165),(42.5,202),(43.8,238),(45.1,286),(46.4,214),(47.6,190),(48.5,226),(49.8,69),
    (51.1,20),(52.4,-28),(53.6,-4),(54.9,-76),(56.2,-125),(57.5,-185),(58.8,-149),(60.1,-173),(61.4,-100),(62.7,-173),
    (63.9,-221),(65.2,-149),(66.5,-100),(67.8,-125),(69.1,-173),(70.4,-137),(71.7,-100),(73,-52),(74.2,-28),(75.5,-64),
    (76.8,-16),(78.1,20),(79.4,-4),(80.7,20),(82,-16),(83.3,8),(84.5,-28),(85.8,-4),(87.1,20),(88.4,-28),
    (89.7,45),(91,165),(92.3,69),(93.6,-4),(94.8,117),(96.1,20),(97.4,-76),(98.7,-100),(100,-125),(101.3,-173),
    (102.6,-100),(103.9,-149),(105.2,-209),(106.4,-185),(107.7,-52),(109,-137),(110.3,-197),(111.6,-221),(112.9,-245),(114.2,-318),
    (115.5,-548),(116.7,-366),(118,-221),(119.3,-100),(120.6,-113),(121.9,-149),(123.2,-100),(124.5,-161),(125.8,-185),(127,-149),
    (128.3,-173),(129.6,-100),(130.9,-88),(132.2,-149),(133.5,-185),(134.8,-125),(136.1,-100),(137.3,-161),(138.6,-197),(139.9,-245),
    (141.2,-185),(142.5,-76),(143.8,-28),(145.1,-52),(146.4,-4),(147.6,-76),(148.9,-28),(150.2,-4),(151.5,-76),(152.8,-28),
    (154.1,-52),(155.4,-125),(156.7,-100),(157.9,-173),(159.2,-245),(160.5,-149),(161.8,-100),(163.1,-149),(164.4,-125),(165.7,-173),
    (167,-221),(168.2,-173),(169.5,-221),(170.4,-378),(171.2,-511),(172.5,-221),(173.8,-100),(175.1,-125),(176.4,-76),(177.7,-125),
    (179,-100),(180.3,-52),(181.5,-28),(182.8,-64),(184.1,2),(185.4,-52),(186.7,-28),(188,-100),(189.3,-76),(190.6,-125),
    (191.8,-149),(193.1,-221),(194,-402),(194.8,-221),(196.1,-125),(197.4,-76),(198.7,-100),(200,-52),(201.3,-28),(202.6,-16),
    (203.9,-52),(205.2,-28),(206.4,-52),(207.7,-100),(209,-173),(210.3,-221),(211.6,-306),(212.9,-342),(214.2,-391),(215.5,-318),
    (216.7,-366),(218,-318),(219.3,-294),(220.6,-342),(221.5,-415),(222.7,-294),(224,-270),(225.3,-258),(226.6,-270),(227.9,-221),
    (229.2,-100),(230.5,-28),(231.8,8),(233,-28),(234.3,-4),(235.6,-28),(236.9,-52),(238.2,-40),(239.5,-64),(240.8,-100),
    (242.1,-76),(243.3,57),(244.6,45),(245.9,-16),(247.2,-100),(248.5,-28),(249.8,20),(251.1,69),(252.4,93),(253.6,117),
    (254.9,69),(256.2,20),(257.5,-28),(258.8,-100),(260.1,-173),(260.9,-354),(262.2,-173),(263.5,-100),(264.8,-52),(266.1,-100),
    (267.4,-88),(268.7,-149),(270,-100),(271.2,-76),(272.5,-125),(273.8,-76),(275.1,-4),(276,105),(277.3,-4),(278.5,-100),
    (279.8,-221),(281.1,-342),(282.4,-463),(283.7,-644),(285,-850),(285.8,-584),(286.7,-342),(288,-100),(288.8,69),(289.7,238),
    (290.6,250),(291.8,117),(293.1,93),(294.4,190),(295.7,117),(297,165),(298.3,93),(299.6,165),(300.9,105),(302.1,69),
    (303.4,93),(304.7,20),(306,-28),(307.3,-52),(308.6,-125),(309.9,-173),(311.2,-209),(312.4,-221),(313.7,-245),(315,-270),
    (316.3,-221),(317.6,-294),(318.9,-318),(320.2,-342),(321.5,-306),(322.7,-318),(324,-245),(325.3,-221),(326.6,-197),(327.9,-173),
    (329.2,-209),(330.5,-173),(331.8,-149),(333,-113),(334.3,-173),(335.6,-221),(336.9,-245),(338.2,-221),(339.5,-282),(340.8,-342),
    (342.1,-318),(343.3,-270),(344.6,-342),(345.9,-318),(347.2,-391),(348.5,-439),(349.8,-415),(351.1,-463),(352.4,-439),(353.6,-487),
    (354.9,-403),(356.2,-415),(357.5,-463),(358.8,-439),(360.1,-511),(361.4,-572),(362.7,-536),(363.9,-487),(365.2,-463),(366.5,-487),
    (367.8,-439),(369.1,-487),(370.4,-427),(371.7,-475),(373,-427),(374.2,-511),(375.5,-463),(376.8,-499),(378.1,-511),(379.4,-560),
    (380.7,-536),(382,-560),(383.3,-536),(384.5,-560),(385.8,-584),(387.1,-572),(388.4,-596),(389.7,-620),(391,-608),(392.3,-644),
    (393.6,-669),(394.8,-632),(396.1,-657),(397.4,-681),(398.7,-705),(400,-741),(401.3,-681),(402.6,-705),(403.9,-717),(405.2,-644),
    (406.4,-584),(407.7,-536),(409,-487),(410.3,-439),(411.6,-415),(412.9,-391),(414.2,-415),(415.5,-342),(416.7,-366),(418,-511),
    (419.3,-366),(420.6,-294),(421.9,-318),(423.2,-245),(424.5,-197),(425.8,-173),(427,-245),(428.3,-366),(429.6,-294),(430.9,-221),
    (432.2,-270),(433.5,-245),(434.8,-221),(436.1,-270),(437.3,-245),(438.6,-221),(439.9,-233),(441.2,-197),(442.5,-185),(443.8,-125),
    (445.1,-197),(446.4,-209),(447.6,-221),(448.9,-221),(450.2,-258),(451.5,-306),(452.8,-342),(454.1,-318),(455.4,-342),(456.7,-366),
    (457.9,-391),(459.2,-415),(460.5,-451),(461.8,-511),(463.1,-596),(464.4,-536),(465.7,-511),(467,-415),(468.2,-294),(469.5,-173),
    (470.8,-125),(472.1,-88),(473.4,-52),(474.7,-28),(476,-52),(477.3,-76),(478.5,-28),(479.8,-52),(481.1,-16),(482.4,-52),
    (483.7,-28),(485,-4),(486.3,-28),(487.6,2),(488.8,-28),(490.1,-52),(491.4,-76),(492.7,-113),(494,-76),(495.3,-125),
    (496.6,-76),(497.9,-125),(499.1,-100),(500.4,-52),(501.7,-76),(503,-125),(504.3,-76),(505.6,-100),(506.9,-52),(508.2,-100),
    (509.4,-125),(510.7,-76),(512,-100),(513.3,-52),(514.6,-100),(515.9,-76),(517.2,-28),(518.5,-52),(519.7,-100),(521,-76),
    (522.3,-125),(523.6,-149),(524.9,-185),(526.2,-161),(527.5,-185),(528.8,-149),(530,-221),(531.3,-149),(532.6,-76),(533.9,-28),
    (535.2,-4),(536.5,-28),(537.8,-40),(539.1,-4),(540.3,-28),(541.6,8),(542.9,-52),(544.2,-28),(545.5,-16),(546.8,-4),
    (548.1,-28),(549.4,-16),(550.6,-4),(551.9,-4),(553.2,2),(554.5,-10),
]
e_bedmap2 = [
    (0,-76),(4,20),(7,80),(10,117),(14,165),(17,190),(20.6,202),(23,180),(25,140),(27,93),
    (30,20),(33.5,-40),(36,-20),(40,2),(43,-5),(46,-16),(50,-20),(53,-28),(56,-60),(60,-110),
    (63.5,-149),(67,-125),(70,-100),(73,-60),(76.4,-28),(79,20),(81.5,57),(84,20),(87,-16),(92,-30),
    (98,-52),(103,-100),(108.6,-173),(112,-220),(115,-245),(117,-294),(119,-240),(121.5,-185),(125,-140),(130,-100),
    (134,-95),(138.6,-88),(143,-60),(147,-40),(150,-45),(153.6,-52),(158,-65),(162,-88),(166,-120),(170.8,-173),
    (173,-230),(176.4,-306),(179,-380),(181.5,-421),(184,-380),(186,-342),(189,-315),(192,-300),(195,-295),(198.7,-291),
    (203,-298),(207,-306),(212,-315),(216,-324),(219,-330),(222,-330),(224,-320),(226.6,-306),(230,-320),(233,-342),
    (237,-390),(241.6,-433),(246,-421),(249,-470),(252.4,-524),(255,-490),(258.8,-439),(262,-425),(265,-421),(267,-480),
    (269.5,-584),(271.5,-650),(273.8,-693),(276,-670),(280,-596),(283,-550),(286.7,-499),(290,-450),(293,-409),(297,-400),
    (301.7,-397),(306,-400),(310,-403),(314.6,-397),(318.9,-433),(323,-460),(327.5,-481),(331,-495),(336,-511),(340,-535),
    (344.6,-560),(349,-602),(353,-605),(357.5,-608),(361.8,-620),(366,-614),(370,-610),(374.7,-608),(379,-600),(383,-596),
    (387,-596),(391.8,-596),(396,-612),(400.4,-632),(405,-625),(409,-620),(413,-614),(417.6,-608),(422,-590),(426,-572),
    (430,-555),(434.8,-536),(439,-515),(443.3,-493),(448,-485),(452,-481),(455,-495),(458.4,-511),(461,-530),(464.8,-548),
    (469,-565),(473.4,-584),(477,-565),(482,-542),(486,-560),(490.6,-584),(494,-610),(497,-632),(501.3,-645),(504,-630),
    (507.7,-608),(512,-612),(516.3,-620),(521,-580),(525,-548),(528,-515),(531.3,-487),(535,-470),(537.8,-463),(542,-415),
    (546.4,-403),(550.6,-378),(554.5,-378),
]
e_bedmachine = [
    (0,-149),(3.4,-28),(7.7,69),(11,110),(14,141),(18.5,165),(22.7,153),(25,120),(27,69),(30.5,-16),
    (33,0),(35.6,2),(39,-5),(42,-10),(45,5),(48.5,14),(52,-10),(55,-28),(58,-50),(61.4,-76),
    (66,-130),(70,-161),(74,-130),(78.5,-100),(83,-80),(87,-74),(90,-80),(93.6,-88),(97,-105),(100,-125),
    (104,-160),(108.6,-197),(112,-230),(115,-251),(118,-210),(121.5,-173),(125,-210),(128,-233),(131,-205),(134.3,-179),
    (139,-150),(143,-125),(147,-105),(151.5,-88),(155,-140),(158,-185),(161,-178),(164.4,-173),(168,-195),(170.8,-209),
    (174,-170),(177.3,-137),(182,-125),(186,-119),(190,-100),(194.4,-88),(198.7,-76),(202,-55),(205,-40),(208,-90),
    (211.6,-161),(215,-230),(218,-270),(221,-265),(224.5,-258),(228,-215),(231,-173),(234,-120),(237,-76),(241,-90),
    (246,-100),(249,-40),(252.4,38),(255,-20),(258.8,-100),(262,-150),(265,-197),(267.5,-260),(269.5,-318),(271.5,-420),
    (273,-493),(275,-430),(278,-342),(281,-290),(284.5,-233),(288,-180),(291,-137),(294,-95),(297.4,-52),(300,-20),
    (303.9,20),(306,15),(309,8),(311,-40),(313.7,-100),(317,-160),(321,-221),(324,-185),(327.5,-149),(331,-160),
    (334,-173),(337,-220),(340.3,-282),(343,-350),(346.8,-415),(350,-430),(353.2,-439),(357,-500),(361.8,-548),(365,-520),
    (368.2,-499),(371,-520),(374.7,-536),(379,-550),(383,-560),(387,-565),(391.8,-572),(396,-585),(400.4,-596),(403,-570),
    (406.9,-524),(410,-460),(413.3,-403),(416,-340),(419.7,-282),(423,-255),(426,-245),(430,-255),(434.8,-258),(439,-225),
    (443.3,-197),(446,-230),(449.8,-270),(453,-320),(456.2,-366),(459,-420),(462.7,-487),(465,-460),(467,-415),(469,-280),
    (471.2,-149),(474,-110),(477.7,-88),(482,-70),(486.3,-52),(489,-70),(492.7,-100),(496,-108),(499.1,-113),(503,-105),
    (507.7,-100),(512,-105),(516.3,-113),(520,-125),(525,-137),(527,-160),(529.2,-179),(532,-130),(535.6,-76),(539,-55),
    (542,-40),(545,-48),(548.5,-52),(552,-42),(554.5,-34),
]
e_icecap2 = [
    (0,-76),(3.4,-76),(6.4,45),(9,80),(12,105),(15,120),(18.5,141),(21.5,184),(24,160),(25.8,129),
    (29.2,93),(31.3,8),(33,80),(34.8,117),(37,120),(40,123),(43,100),(46.4,75),(50.6,69),(53,20),
    (55,-28),(58,-70),(61.4,-113),(64,-125),(67.8,-137),(71,-110),(74.2,-88),(77,-50),(80.7,-16),(84,-12),
    (87,-10),(90,5),(93.6,20),(96,-20),(100,-100),(104,-130),(108.6,-161),(112,-190),(115,-221),(117.6,-342),
    (119,-260),(121.5,-185),(125,-200),(128,-209),(131,-195),(134.3,-185),(137,-200),(140.8,-209),(144,-150),(147.2,-88),
    (151,-80),(155.8,-76),(160,-120),(164.4,-173),(168,-160),(173,-149),(177,-130),(181.5,-113),(186,-100),(190,-88),
    (194,-76),(198.7,-64),(203,-50),(206.4,-40),(210,-100),(213.7,-185),(218,-258),(221,-260),(224.5,-258),(228,-235),
    (231,-209),(234,-150),(237.3,-100),(241,-115),(246,-137),(250,-60),(254.5,69),(256.5,0),(258.8,-64),(262,-100),
    (265,-125),(268,-180),(270.8,-245),(273,-160),(276,-88),(278,-140),(280,-197),(282,-260),(284.5,-318),(286.5,-290),
    (288.8,-245),(290.5,-50),(292.3,153),(295.3,129),(299,125),(303.9,117),(308,45),(311,20),(314.6,-4),(316.5,-80),
    (318.9,-149),(323.2,-161),(327,-160),(331.8,-161),(336,-165),(340.3,-173),(342.5,-250),(344.6,-318),(347,-380),(349,-427),
    (352,-420),(355.4,-415),(358.5,-460),(361.8,-499),(365,-505),(368.2,-511),(371.5,-518),(374.7,-524),(379,-555),(383,-584),
    (387,-575),(391.8,-566),(396,-575),(400.4,-584),(404,-572),(406.9,-560),(410,-480),(413.3,-403),(417,-300),(421.9,-197),
    (426,-230),(430.5,-258),(435,-255),(439,-252),(442,-230),(445.5,-209),(449,-260),(452,-306),(455,-325),(458.4,-342),
    (461,-410),(464,-481),(466.5,-430),(469,-379),(472,-240),(475.5,-100),(479,-95),(482,-88),(485,-60),(488.4,-40),
    (491.5,-65),(494.8,-88),(498,-100),(501.3,-113),(505,-135),(510,-161),(513,-130),(516.3,-100),(520,-130),(525,-161),
    (529.2,-173),(533,-140),(537.8,-100),(541,-85),(544.2,-76),(548.5,-82),(551,-55),(554.5,-28),
]

series_names = ["Radio Echo Sounding (RES)", "Bedmap2 Bed DEM", "BedMachine", "ICECAP2 DEM"]
series_colors = ["#000000", "#3a4ca6", "#ee2222", "#62b63e"]
series_widths = [1.2, 1.6, 1.6, 1.6]

panels = [
    dict(tag="(a)", start="A", end="A’", data=[a_res, a_bedmap2, a_bedmachine, a_icecap2],
         xmax=250, xstep=50, yrange=[-600, 1400], top=52, legend="right"),
    dict(tag="(b)", start="B", end="B’", data=[b_res, b_bedmap2, b_bedmachine, b_icecap2],
         xmax=251.75, xstep=50, yrange=[-200, 1600], top=726, legend="left"),
    dict(tag="(c)", start="C", end="C’", data=[c_res, c_bedmap2, c_bedmachine, c_icecap2],
         xmax=309.8, xstep=50, yrange=[-600, 1000], top=1388, legend="left"),
    dict(tag="(d)", start="D", end="D’", data=[d_res, d_bedmap2, d_bedmachine, d_icecap2],
         xmax=436.5, xstep=50, yrange=[-600, 800], top=2003, legend="right"),
    dict(tag="(e)", start="E", end="E’", data=[e_res, e_bedmap2, e_bedmachine, e_icecap2],
         xmax=554.5, xstep=100, yrange=[-1000, 400], top=2685, legend="left"),
]

# plot area edges in page pixels
PLOT_L, PLOT_R, PLOT_H = 171, 1100, 502


def fx(px):
    return (px - OFF) / W


def fy(py):
    return 1 - (py - OFF) / H


fig = go.Figure()
annotations = []
label_font = dict(family="Lato", size=26, color="#000000")

for i, p in enumerate(panels, start=1):
    sfx = "" if i == 1 else str(i)
    top, bottom = p["top"], p["top"] + PLOT_H

    for series, name, color, width in zip(p["data"], series_names, series_colors, series_widths):
        fig.add_trace(go.Scatter(
            x=[pt[0] for pt in series], y=[pt[1] for pt in series],
            mode="lines", name=name,
            line=dict(color=color, width=width),
            xaxis="x" + sfx, yaxis="y" + sfx, legend="legend" + sfx,
        ))

    axis_common = dict(
        showline=True, linecolor="#3a3a3a", linewidth=1, mirror="ticks",
        ticks="inside", ticklen=6, tickcolor="#333333",
        showgrid=True, gridcolor="#bdbdbd", griddash="dot", gridwidth=1,
        zeroline=False, automargin=False,
        tickfont=dict(family="Liberation Sans", size=10.5, color="#444444"),
    )
    if p["legend"] == "right":
        leg_pos = dict(x=fx(1092), xanchor="right")
    else:
        leg_pos = dict(x=fx(179), xanchor="left")

    fig.update_layout({
        "xaxis" + sfx: dict(
            axis_common, domain=[fx(PLOT_L), fx(PLOT_R)], anchor="y" + sfx,
            range=[0, p["xmax"]], dtick=p["xstep"], tick0=0,
            title=dict(text="Along-track distance (km)", standoff=9,
                       font=dict(family="Liberation Sans", size=14, color="#222222")),
        ),
        "yaxis" + sfx: dict(
            axis_common, domain=[fy(bottom), fy(top)], anchor="x" + sfx,
            range=p["yrange"], dtick=200,
            title=dict(text="Bed elevation (m)", standoff=6,
                       font=dict(family="Liberation Sans", size=14, color="#222222")),
        ),
        "legend" + sfx: dict(
            leg_pos, y=fy(bottom - 7), yanchor="bottom",
            bgcolor="white", bordercolor="#000000", borderwidth=1,
            font=dict(family="Liberation Sans", size=16, color="#000000"),
            itemwidth=30, tracegroupgap=0,
        ),
    })

    label_y = fy(top - 20)
    centred = dict(xref="paper", yref="paper", showarrow=False,
                   xanchor="center", yanchor="middle")
    annotations += [
        dict(centred, text=p["tag"], x=fx(40), y=fy(top + 21),
             font=dict(family="Lato", size=44, color="#111111")),
        dict(centred, text="<b>%s</b>" % p["start"], x=fx(212), y=label_y, font=label_font),
        dict(centred, text="<b>Profile %s–%s</b>" % (p["start"], p["end"]), x=fx(614), y=label_y,
             font=label_font),
        dict(centred, text="<b>%s</b>" % p["end"], x=fx(1068), y=label_y, font=label_font),
    ]

fig.update_layout(
    width=W, height=H,
    margin=dict(l=0, r=0, t=0, b=0),
    paper_bgcolor="white", plot_bgcolor="white",
    annotations=annotations,
    showlegend=True,
)

fig.write_html("out.html")
